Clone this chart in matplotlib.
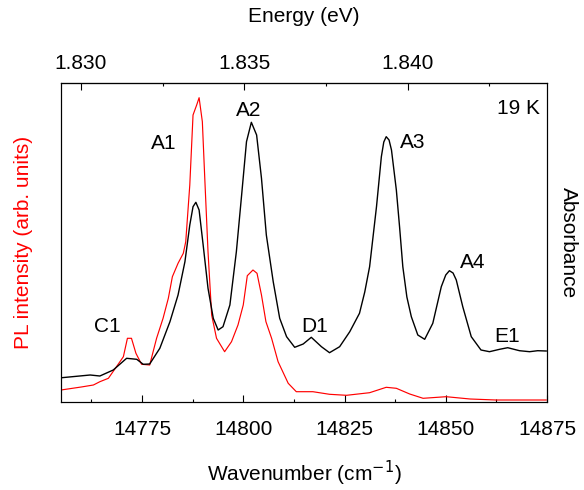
import matplotlib
matplotlib.use("Agg")
import matplotlib.pyplot as plt
from matplotlib.ticker import FixedLocator, FormatStrFormatter

plt.rcParams['font.family'] = ['Liberation Sans', 'DejaVu Sans']

# Absorbance (black) – wavenumber (cm^-1) and arbitrary units
abs_wn = [14755.2, 14762.2, 14764.6, 14767.9, 14771.2, 14773.7, 14775.3, 14776.9, 14779.4,
          14781.9, 14783.9, 14785.6, 14786.8, 14787.6, 14788.3, 14789.1, 14790.1, 14791.3,
          14792.6, 14793.8, 14795.0, 14796.7, 14798.3, 14799.6, 14800.8, 14802.0, 14803.3,
          14804.5, 14805.7, 14807.4, 14809.0, 14810.7, 14812.7, 14814.8, 14816.8, 14819.3,
          14821.3, 14823.8, 14826.3, 14828.7, 14830.0, 14831.2, 14832.9, 14834.1, 14834.7,
          14835.3, 14836.0, 14836.6, 14837.8, 14838.6, 14839.4, 14840.4, 14841.5, 14843.1,
          14844.8, 14846.8, 14848.9, 14850.0, 14850.9, 14851.8, 14852.6, 14854.2, 14856.3,
          14858.7, 14860.8, 14863.3, 14865.3, 14868.2, 14870.7, 14872.7, 14874.8]
abs_val = [0.243, 0.27, 0.26, 0.32, 0.437, 0.427, 0.377, 0.38, 0.537,
           0.803, 1.07, 1.403, 1.77, 1.953, 1.997, 1.92, 1.57, 1.137,
           0.837, 0.72, 0.753, 0.97, 1.503, 2.07, 2.603, 2.797, 2.67,
           2.237, 1.67, 1.203, 0.837, 0.653, 0.547, 0.58, 0.647, 0.553,
           0.493, 0.553, 0.703, 0.887, 1.10, 1.353, 1.953, 2.453, 2.60,
           2.653, 2.62, 2.52, 2.12, 1.75, 1.353, 1.05, 0.853, 0.67,
           0.627, 0.787, 1.153, 1.27, 1.313, 1.29, 1.22, 0.953, 0.653,
           0.52, 0.503, 0.527, 0.543, 0.513, 0.503, 0.513, 0.51]

# PL intensity (red)
pl_wn = [14755.0, 14760.0, 14763.0, 14764.6, 14766.7, 14768.7, 14770.4, 14771.4, 14772.4,
         14773.5, 14774.9, 14776.9, 14778.6, 14780.2, 14781.5, 14782.5, 14783.9, 14785.2,
         14785.8, 14786.8, 14787.6, 14788.5, 14789.1, 14789.9, 14790.5, 14791.3, 14792.2,
         14793.4, 14795.4, 14797.1, 14798.7, 14800.0, 14801.0, 14802.4, 14803.4, 14804.5,
         14805.6, 14807.0, 14808.6, 14811.1, 14813.1, 14817.2, 14821.3, 14825.5, 14831.2,
         14835.3, 14837.8, 14841.1, 14844.4, 14850.1, 14856.0, 14862.4, 14874.8]
pl_val = [0.12, 0.15, 0.17, 0.203, 0.237, 0.353, 0.453, 0.637, 0.637,
          0.487, 0.377, 0.37, 0.637, 0.837, 1.037, 1.253, 1.387, 1.487,
          1.603, 2.17, 2.87, 2.97, 3.043, 2.803, 2.237, 1.503, 0.87,
          0.637, 0.503, 0.603, 0.77, 0.97, 1.263, 1.32, 1.287, 1.07,
          0.803, 0.637, 0.403, 0.187, 0.103, 0.103, 0.077, 0.067, 0.093,
          0.147, 0.137, 0.08, 0.037, 0.053, 0.03, 0.02, 0.02]

peak_labels = ["C1", "A1", "A2", "D1", "A3", "A4", "E1"]
peak_label_wn = [14766.4, 14780.4, 14801.4, 14817.7, 14841.8, 14856.7, 14865.1]
peak_label_y = [0.75, 2.58, 2.91, 0.75, 2.59, 1.39, 0.66]

EV_PER_WN = 1 / 8065.54
energy_ticks = [1.830, 1.835, 1.840]
energy_minor = [1.8325, 1.8375, 1.8425]
wn_ticks = [14775, 14800, 14825, 14850, 14875]
wn_minor = [14762.5, 14787.5, 14812.5, 14837.5, 14862.5]

FS = 15

fig = plt.figure(figsize=(5.84, 4.90), dpi=100)
ax = fig.add_axes([61/584, 1 - 402/490, (547-61)/584, (402-83)/490])
ax2 = ax.twinx()

ax.plot(pl_wn, pl_val, color='#ff0000', lw=0.85)
ax2.plot(abs_wn, abs_val, color='black', lw=1.0)

ax.set_xlim(14755, 14875)
ax.set_ylim(0, 3.19)
ax2.set_ylim(0, 3.19)

ax.set_yticks([])
ax2.set_yticks([])
for a in (ax, ax2):
    for s in a.spines.values():
        s.set_linewidth(0.8)

ax.xaxis.set_major_locator(FixedLocator(wn_ticks))
ax.xaxis.set_minor_locator(FixedLocator(wn_minor))
ax.tick_params(axis='x', which='major', direction='in', length=5, width=0.8, labelsize=FS, pad=13)
ax.tick_params(axis='x', which='minor', direction='in', length=2.5, width=0.8)

sec = ax.secondary_xaxis('top', functions=(lambda w: w * EV_PER_WN, lambda e: e / EV_PER_WN))
sec.xaxis.set_major_locator(FixedLocator(energy_ticks))
sec.xaxis.set_minor_locator(FixedLocator(energy_minor))
sec.xaxis.set_major_formatter(FormatStrFormatter('%.3f'))
sec.tick_params(axis='x', which='major', direction='in', length=5, width=0.8, labelsize=FS, pad=7)
sec.tick_params(axis='x', which='minor', direction='in', length=2.5, width=0.8)
sec.set_xlabel('Energy (eV)', fontsize=FS, labelpad=23)

ax.set_xlabel('Wavenumber (cm$^{-1}$)', fontsize=FS, labelpad=14)
ax.set_ylabel('PL intensity (arb. units)', fontsize=FS, color='#ff0000', labelpad=20)
ax2.set_ylabel('Absorbance', fontsize=FS, rotation=-90, labelpad=22)

for name, xw, yv in zip(peak_labels, peak_label_wn, peak_label_y):
    ax2.text(xw, yv, name, fontsize=FS, ha='center', va='center')
ax2.text(0.986, 0.92, '19 K', transform=ax.transAxes, fontsize=FS, ha='right', va='center')

fig.savefig('out.png', dpi=100)
